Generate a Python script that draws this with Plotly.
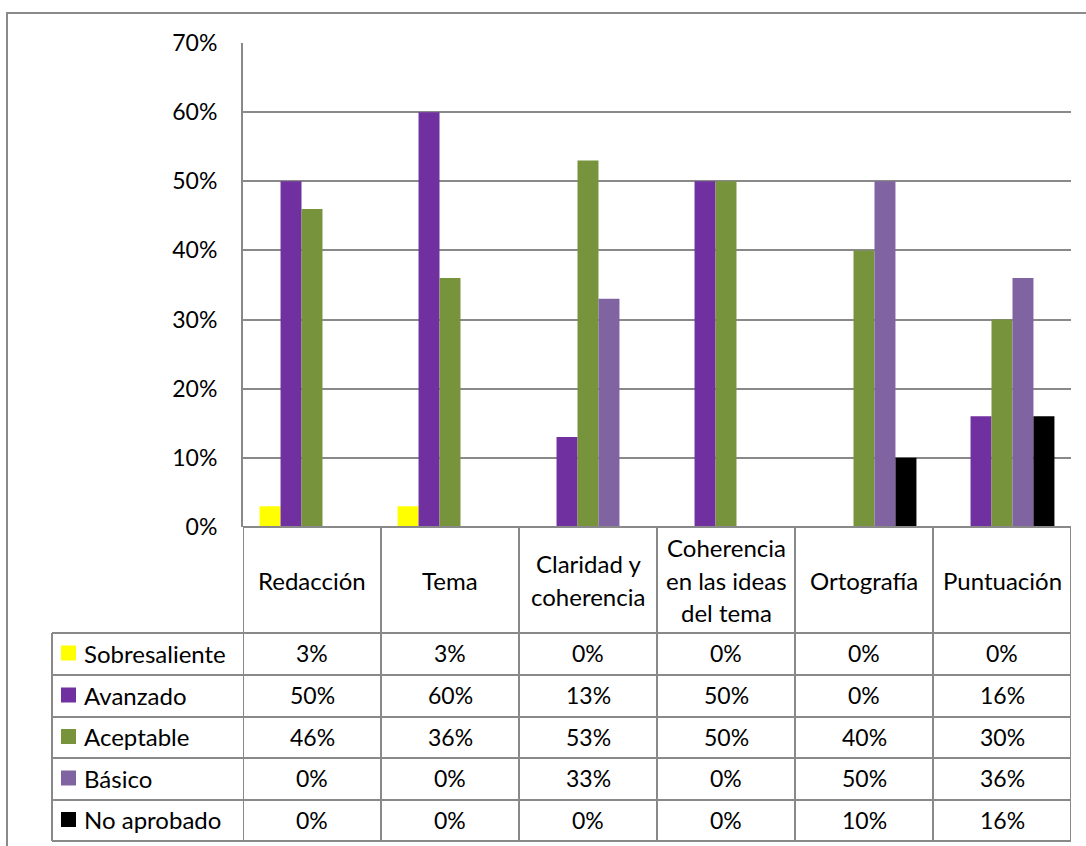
import plotly.graph_objects as go

categories = ["Redacción", "Tema", "Claridad y\ncoherencia", "Coherencia\nen las ideas\ndel tema", "Ortografía", "Puntuación"]
series_names = ["Sobresaliente", "Avanzado", "Aceptable", "Básico", "No aprobado"]
sobresaliente = [3, 3, 0, 0, 0, 0]
avanzado = [50, 60, 13, 50, 0, 16]
aceptable = [46, 36, 53, 50, 40, 30]
basico = [0, 0, 33, 0, 50, 36]
no_aprobado = [0, 0, 0, 0, 10, 16]
colors = ["#FFFF00", "#7030A0", "#77933C", "#8064A2", "#000000"]
y_ticks = [0, 10, 20, 30, 40, 50, 60, 70]

series_values = [sobresaliente, avanzado, aceptable, basico, no_aprobado]

W, H = 1086, 846
PX0, PX1, PY0, PY1 = 243, 1071, 43, 527
FONT = "Lato"
FS = 24
FSN = 23
GRID = "#898989"


def px(x):
    return (x - PX0) / (PX1 - PX0)


def py(y):
    return (PY1 - y) / (PY1 - PY0)


fig = go.Figure()
x_idx = list(range(len(categories)))
for name, vals, col in zip(series_names, series_values, colors):
    fig.add_trace(go.Bar(x=x_idx, y=vals, name=name, marker_color=col,
                         marker_line_width=0, showlegend=False))

shapes = []
annotations = []

header_bottom = 633
row_edges = [633, 675, 717, 758, 800, 841]
table_left = 52

line = dict(color=GRID, width=2)
shapes.append(dict(type="line", xref="paper", yref="paper", x0=0, x1=1,
                   y0=0, y1=0, line=line))
for ye in row_edges:
    shapes.append(dict(type="line", xref="paper", yref="paper", x0=px(table_left), x1=1,
                       y0=py(ye), y1=py(ye), line=line))
for i in range(len(categories) + 1):
    shapes.append(dict(type="line", xref="x", yref="paper", x0=i - 0.5, x1=i - 0.5,
                       y0=0, y1=py(row_edges[-1]), line=line))
shapes.append(dict(type="line", xref="paper", yref="paper", x0=px(table_left), x1=px(table_left),
                   y0=py(header_bottom), y1=py(row_edges[-1]), line=line))
shapes.append(dict(type="rect", xref="paper", yref="paper", x0=px(7), x1=px(1100),
                   y0=py(13), y1=py(860), line=dict(color="#8a8a8a", width=2)))

line_gap = 32.5
for i, cat in enumerate(categories):
    lines = cat.split("\n")
    n = len(lines)
    for j, t in enumerate(lines):
        yc = 580 + (j - (n - 1) / 2) * line_gap
        annotations.append(dict(x=i, y=py(yc), xref="x", yref="paper", text=t,
                                showarrow=False, xanchor="center", yanchor="middle",
                                font=dict(family=FONT, size=FS, color="#000")))

for r, (name, vals, col) in enumerate(zip(series_names, series_values, colors)):
    yc = (row_edges[r] + row_edges[r + 1]) / 2 - 1
    shapes.append(dict(type="rect", xref="paper", yref="paper", x0=px(61), x1=px(76),
                       y0=py(yc - 7.5), y1=py(yc + 7.5), fillcolor=col, line=dict(width=0)))
    annotations.append(dict(x=px(82), y=py(yc), xref="paper", yref="paper", text=name,
                            showarrow=False, xanchor="left", yanchor="middle",
                            font=dict(family=FONT, size=FS, color="#000")))
    for i, v in enumerate(vals):
        annotations.append(dict(x=i, y=py(yc), xref="x", yref="paper", text=f"{v}%",
                                showarrow=False, xanchor="center", yanchor="middle",
                                font=dict(family=FONT, size=FSN, color="#000")))

fig.update_layout(
    width=W, height=H,
    margin=dict(l=PX0, r=W - PX1, t=PY0, b=H - PY1, pad=0),
    paper_bgcolor="white", plot_bgcolor="white",
    barmode="group", bargap=0.24, bargroupgap=0,
    shapes=shapes, annotations=annotations,
    xaxis=dict(range=[-0.5, len(categories) - 0.5], showticklabels=False, showgrid=False,
               zeroline=False, showline=False, ticks=""),
    yaxis=dict(range=[0, 70], tickvals=y_ticks, ticktext=[f"{t}%" for t in y_ticks],
               showgrid=True, gridcolor=GRID, gridwidth=2, zeroline=False,
               showline=True, linecolor=GRID, linewidth=2, ticks="",
               ticklabelstandoff=19,
               tickfont=dict(family=FONT, size=FSN, color="#000")),
    font=dict(family=FONT, size=FS, color="#000"),
)

fig.write_html("out.html")
